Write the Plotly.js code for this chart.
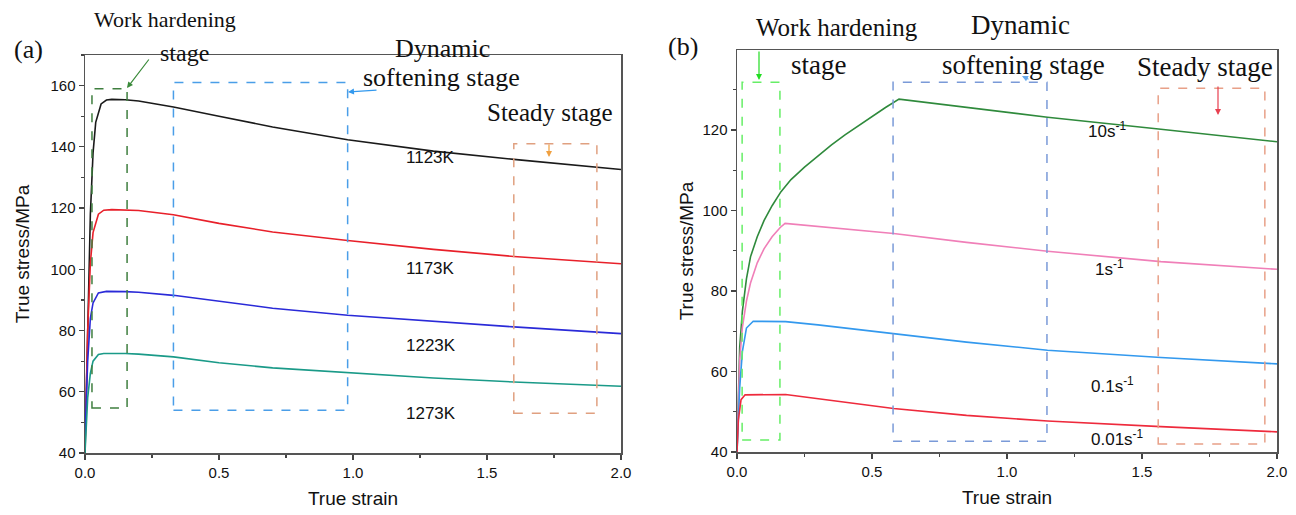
<!DOCTYPE html>
<html><head><meta charset="utf-8">
<script src="https://cdn.plot.ly/plotly-3.0.1.min.js"></script>
<style>html,body{margin:0;padding:0;background:#fff}</style>
</head><body><div id="chart" style="width:1296px;height:515px"></div>
<script>
// Panel (a): temperature series
const strainA1123 = [0,0.01,0.02,0.03,0.04,0.06,0.08,0.1,0.15,0.2,0.33,0.5,0.7,0.98,1.3,1.6,2.0];
const stressA1123 = [40,85,118,138,148,154,155.3,155.5,155.4,155,153,150,146.5,142.3,138.6,135.9,132.6];
const strainA1173 = [0,0.01,0.02,0.03,0.05,0.07,0.1,0.15,0.2,0.33,0.5,0.7,0.98,1.3,1.6,2.0];
const stressA1173 = [42,80,102,112,118,119.3,119.5,119.4,119.2,117.8,115,112.2,109.4,106.5,104.2,101.8];
const strainA1223 = [0,0.01,0.02,0.03,0.05,0.08,0.15,0.2,0.33,0.5,0.7,0.98,1.3,1.6,2.0];
const stressA1223 = [45,70,84,89,92.3,92.8,92.7,92.5,91.5,89.5,87.3,85,83,81.2,79];
const strainA1273 = [0,0.01,0.02,0.03,0.05,0.07,0.15,0.2,0.33,0.5,0.7,0.98,1.3,1.6,2.0];
const stressA1273 = [40,58,66,70,72.2,72.5,72.5,72.3,71.4,69.5,67.8,66.2,64.5,63.2,61.8];
const labelsA = ["1123K","1173K","1223K","1273K"];

// Panel (b): strain-rate series
const strainB10 = [0,0.005,0.01,0.02,0.035,0.05,0.075,0.1,0.13,0.163,0.2,0.25,0.3,0.35,0.4,0.45,0.5,0.55,0.6,0.9,1.15,1.57,2.0];
const stressB10 = [40,58,66,75,83,88.5,93.5,97.5,101.2,104.7,107.7,110.8,113.6,116.3,118.8,121.1,123.3,125.6,127.7,125.3,123.2,120.2,117.1];
const strainB1 = [0,0.005,0.01,0.02,0.035,0.05,0.075,0.1,0.13,0.16,0.178,0.58,0.85,1.15,1.57,2.0];
const stressB1 = [40,55,63,71,77.5,82,87,90.5,93.5,95.8,96.8,94.3,92.1,89.9,87.3,85.4];
const strainB01 = [0,0.01,0.02,0.035,0.06,0.18,0.3,0.58,0.85,1.15,1.57,2.0];
const stressB01 = [40,56,65,70.8,72.5,72.4,71.6,69.5,67.3,65.3,63.5,61.9];
const strainB001 = [0,0.005,0.015,0.03,0.18,0.3,0.58,0.85,1.15,1.57,2.0];
const stressB001 = [40,48,53,54.2,54.3,53.3,50.8,49.1,47.7,46.3,45];
const labelsB = ["10s<sup>-1</sup>","1s<sup>-1</sup>","0.1s<sup>-1</sup>","0.01s<sup>-1</sup>"];

const W=1296,H=515;
const px=v=>v/W, py=v=>1-v/H;

function tr(x,y,color,xa,ya){return {x:x,y:y,type:'scatter',mode:'lines',line:{color:color,width:1.6},xaxis:xa,yaxis:ya,hoverinfo:'skip'};}
const data=[
 tr(strainA1123,stressA1123,'#1a1a1a','x','y'),
 tr(strainA1173,stressA1173,'#e8202a','x','y'),
 tr(strainA1223,stressA1223,'#2a2ad8','x','y'),
 tr(strainA1273,stressA1273,'#1a9a88','x','y'),
 tr(strainB10,stressB10,'#2f8a3c','x2','y2'),
 tr(strainB1,stressB1,'#f07fb8','x2','y2'),
 tr(strainB01,stressB01,'#3399ee','x2','y2'),
 tr(strainB001,stressB001,'#ee2a3c','x2','y2')
];

const tickFont={family:'Liberation Sans, Arial, sans-serif',size:15,color:'#111'};
const titleFont={family:'Liberation Sans, Arial, sans-serif',size:19,color:'#111'};
function xax(dom,anchor){return {domain:dom,anchor:anchor,range:[0,2],tickvals:[0,0.5,1,1.5,2],ticktext:['0.0','0.5','1.0','1.5','2.0'],ticks:'outside',ticklen:5,tickwidth:1.2,tickcolor:'#444',showline:true,linecolor:'#555',linewidth:1.5,mirror:true,showgrid:false,zeroline:false,tickfont:tickFont,title:{text:'True strain',font:titleFont,standoff:12},minor:{dtick:0.25,ticks:'outside',ticklen:3,tickcolor:'#444'}};}
function yax(dom,anchor,range,standoff){return {domain:dom,anchor:anchor,range:range,dtick:20,ticks:'outside',ticklen:5,tickwidth:1.2,tickcolor:'#444',showline:true,linecolor:'#555',linewidth:1.5,mirror:true,showgrid:false,zeroline:false,tickfont:tickFont,title:{text:'True stress/MPa',font:titleFont,standoff:standoff},minor:{dtick:10,ticks:'outside',ticklen:3,tickcolor:'#444'}};}

const serif={family:'Liberation Serif, Times New Roman, serif',size:24,color:'#111'};
function pa(text,x,y,size){return {xref:'paper',yref:'paper',x:px(x),y:py(y),text:text,showarrow:false,xanchor:'center',yanchor:'middle',font:Object.assign({},serif,{size:size})};}
function lab(text,x,y,xr,yr){return {xref:xr,yref:yr,x:x,y:y,text:text,showarrow:false,xanchor:'center',yanchor:'middle',font:{family:'Liberation Sans, Arial, sans-serif',size:17,color:'#111'}};}
function arr(x,y,ax,ay,color){return {xref:'paper',yref:'paper',x:px(x),y:py(y),ax:px(ax),ay:py(ay),axref:'paper',ayref:'paper',text:'',showarrow:true,arrowhead:2,arrowsize:1,arrowwidth:1.2,arrowcolor:color};}

const annotations=[
 pa('(a)',28,50,26), pa('Work hardening',165,20,22), pa('stage',184,53,24), pa('Dynamic',442,48,26), pa('softening stage',441,78,26), pa('Steady stage',550,113,25),
 pa('(b)',683,46,26), pa('Work hardening',837,27,25), pa('stage',818,65,27), pa('Dynamic',1020,25,27), pa('softening stage',1023,65,27), pa('Steady stage',1205,67,27),
 lab(labelsA[0],1.29,136.5,'x','y'), lab(labelsA[1],1.29,100.3,'x','y'), lab(labelsA[2],1.29,75,'x','y'), lab(labelsA[3],1.29,53,'x','y'),
 lab(labelsB[0],1.37,120,'x2','y2'), lab(labelsB[1],1.38,85.7,'x2','y2'), lab(labelsB[2],1.39,56.6,'x2','y2'), lab(labelsB[3],1.41,43.6,'x2','y2'),
 arr(127,88,150,58,'#3a8a3a'), arr(348,92,378,90,'#3399ee'), arr(549,157,549,143,'#f0a040'),
 arr(759,80,759,50,'#22dd22'), arr(1022,76,1030,80,'#66aaee'), arr(1218,115,1218,85,'#e84050')
];

function box(x0,x1,y0,y1,color,xr,yr){return {type:'rect',xref:xr,yref:yr,x0:x0,x1:x1,y0:y0,y1:y1,line:{color:color,width:1.5,dash:'dash'},fillcolor:'rgba(0,0,0,0)'};}
const shapes=[
 box(0.026,0.157,54.7,159,'#3f7f3f','x','y'),
 box(0.33,0.98,54,161,'#4a9ee8','x','y'),
 box(1.6,1.91,53,141,'#e0a080','x','y'),
 box(0.019,0.159,43,131.9,'#66ee66','x2','y2'),
 box(0.578,1.148,42.7,131.9,'#7a9ad8','x2','y2'),
 box(1.56,1.955,42,130.4,'#e8a088','x2','y2')
];

const layout={width:W,height:H,margin:{l:0,r:0,t:0,b:0},paper_bgcolor:'#fff',plot_bgcolor:'#fff',showlegend:false,
 xaxis:xax([px(85),px(621)],'y'), yaxis:yax([py(453),py(55)],'x',[40,170],16),
 xaxis2:xax([px(737),px(1277)],'y2'), yaxis2:yax([py(452),py(50)],'x2',[40,139.9],4),
 annotations:annotations, shapes:shapes};
Plotly.newPlot('chart',data,layout,{displayModeBar:false,staticPlot:true});
</script></body></html>
